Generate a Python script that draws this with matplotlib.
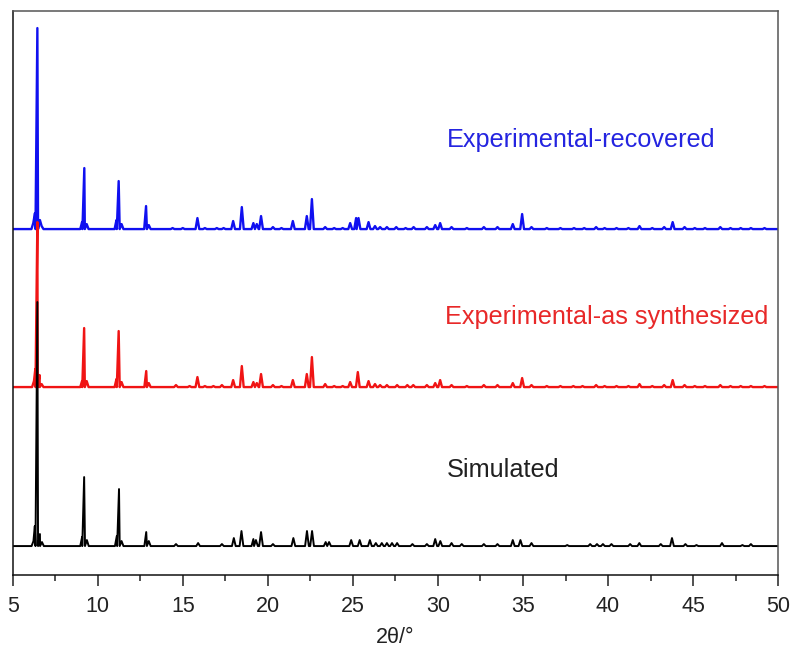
import matplotlib
matplotlib.use("Agg")
import matplotlib.pyplot as plt
from matplotlib.ticker import MultipleLocator

plt.rcParams['font.family'] = ['Liberation Sans', 'DejaVu Sans']

# peak apexes: 2theta (deg) and height above each baseline (a.u.)
sim_pos = [6.22, 6.3, 6.45, 6.6, 6.72, 9.08, 9.2, 9.36, 11.12, 11.25, 11.4, 12.85, 13.0,
           14.6, 15.9, 17.3, 18.0, 18.45, 19.15, 19.3, 19.6, 20.3, 21.5, 22.3, 22.6,
           23.4, 23.6, 24.9, 25.4, 26.0, 26.35, 26.7, 27.0, 27.3, 27.6, 28.5, 29.35,
           29.84, 30.14, 30.8, 31.4, 32.7, 33.5, 34.4, 34.85, 35.5, 37.6, 38.95, 39.35,
           39.7, 40.2, 41.3, 41.84, 43.1, 43.76, 44.55, 45.2, 46.7, 47.9, 48.4]
sim_int = [5, 20, 244, 12, 4, 9, 69, 6, 10, 57, 5, 14, 5,
           2, 3, 2, 8, 15, 7, 6, 14, 2, 8, 15, 15,
           4, 4, 6, 6, 6, 3, 3, 3, 3, 3, 2, 2,
           7, 5, 3, 2, 2, 2, 6, 6, 3, 1, 2, 2,
           2, 2, 2, 3, 2, 8, 2, 1, 3, 1, 2]

syn_pos = [6.25, 6.33, 6.45, 6.58, 6.7, 9.08, 9.2, 9.35, 11.1, 11.23, 11.4, 12.85, 13.0,
           14.6, 15.4, 15.86, 16.3, 16.8, 17.3, 17.96, 18.47, 19.15, 19.35, 19.6, 20.3,
           20.8, 21.47, 22.29, 22.59, 23.37, 23.9, 24.4, 24.84, 25.29, 25.92, 26.3, 26.6,
           27.0, 27.6, 28.2, 28.55, 29.35, 29.84, 30.13, 30.8, 31.7, 32.7, 33.5, 34.4,
           34.95, 35.5, 36.4, 37.2, 37.96, 38.5, 39.3, 39.8, 40.5, 41.2, 41.85, 42.6,
           43.3, 43.8, 44.5, 45.1, 45.7, 46.6, 47.2, 47.8, 48.4, 49.2]
syn_int = [6, 18, 165, 12, 3, 6, 59, 6, 8, 56, 5, 16, 4,
           2, 1, 10, 1, 1, 2, 7, 21, 5, 4, 13, 2,
           1, 7, 13, 30, 3, 1, 1, 5, 15, 6, 3, 2,
           2, 2, 2, 2, 2, 4, 7, 2, 1, 2, 2, 4,
           9, 2, 1, 1, 1, 1, 2, 1, 1, 1, 3, 1,
           2, 7, 2, 1, 1, 2, 1, 1, 1, 1]

rec_pos = [6.21, 6.31, 6.45, 6.6, 6.7, 9.08, 9.21, 9.35, 11.1, 11.23, 11.4, 12.84, 13.0,
           14.4, 15.0, 15.86, 16.3, 17.0, 17.4, 17.96, 18.47, 19.15, 19.35, 19.6, 20.3,
           20.8, 21.47, 22.29, 22.59, 23.37, 23.9, 24.4, 24.84, 25.19, 25.33, 25.92, 26.3,
           26.6, 27.0, 27.55, 28.1, 28.57, 29.35, 29.84, 30.13, 30.8, 31.7, 32.7, 33.5,
           34.4, 34.95, 35.5, 36.4, 37.2, 38.0, 38.6, 39.3, 39.8, 40.5, 41.2, 41.85,
           42.6, 43.3, 43.8, 44.5, 45.1, 45.7, 46.6, 47.2, 47.8, 48.4, 49.2]
rec_int = [6, 16, 201, 9, 3, 7, 61, 5, 9, 48, 5, 23, 4,
           1, 1, 11, 1, 1, 1, 8, 22, 6, 5, 13, 2,
           1, 8, 13, 30, 2, 1, 1, 6, 11, 11, 7, 3,
           2, 2, 2, 1, 2, 2, 4, 6, 2, 1, 2, 2,
           5, 15, 2, 1, 1, 1, 1, 2, 1, 1, 1, 3,
           1, 2, 7, 2, 1, 1, 2, 1, 1, 1, 1]

labels = ['Simulated', 'Experimental-as synthesized', 'Experimental-recovered']
offsets = [0, 159, 317]


def trace(pos, height, hw=0.11):
    # line through each apex, dropping to the baseline between separated peaks
    xs, ys = [5.0], [0.0]
    for i, (p, h) in enumerate(zip(pos, height)):
        if p - hw > xs[-1]:
            xs.append(p - hw)
            ys.append(0.0)
        xs.append(p)
        ys.append(h)
        nxt = pos[i + 1] if i + 1 < len(pos) else 50.0
        if p + hw < nxt - hw:
            xs.append(p + hw)
            ys.append(0.0)
    xs.append(50.0)
    ys.append(0.0)
    return xs, ys


fig = plt.figure(figsize=(7.94, 6.52), dpi=100)
ax = fig.add_axes([0.016, 0.118, 0.964, 0.865])

series = [(rec_pos, rec_int, '#1010f0', offsets[2], 1.7),
          (syn_pos, syn_int, '#f01414', offsets[1], 1.7),
          (sim_pos, sim_int, '#000000', offsets[0], 1.4)]
for pos, inten, col, off, lw in series:
    xs, ys = trace(pos, inten)
    ax.plot(xs, [y + off for y in ys], color=col, lw=lw, solid_joinstyle='round')

ax.text(30.55, 406, labels[2], color='#2424e0', fontsize=18.2, va='center')
ax.text(30.43, 229, labels[1], color='#e82828', fontsize=18.2, va='center')
ax.text(30.53, 76, labels[0], color='#202020', fontsize=18.2, va='center')

ax.set_xlim(5, 50)
ax.set_ylim(-29, 535)
ax.set_yticks([])
ax.xaxis.set_major_locator(MultipleLocator(5))
ax.xaxis.set_minor_locator(MultipleLocator(2.5))
ax.tick_params(axis='x', which='major', direction='out', length=8, width=1.1,
               labelsize=15.5, pad=7, colors='#222222')
ax.tick_params(axis='x', which='minor', direction='out', length=4.5, width=1.1, colors='#222222')
ax.set_xlabel('2θ/°', fontsize=15.5, labelpad=7, color='#222222')

for side in ['left', 'bottom']:
    ax.spines[side].set_color('#111111')
    ax.spines[side].set_linewidth(1.1)
for side in ['top', 'right']:
    ax.spines[side].set_color('#555555')
    ax.spines[side].set_linewidth(1.1)

fig.savefig('out.png', dpi=100)
